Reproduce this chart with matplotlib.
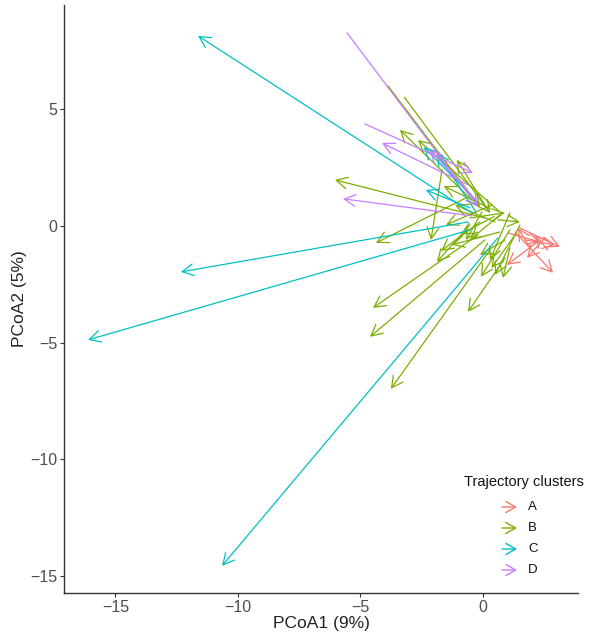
import matplotlib
matplotlib.use("Agg")
import matplotlib.pyplot as plt

plt.rcParams['font.family'] = ['Liberation Sans', 'DejaVu Sans']

clusters = ['A', 'B', 'C', 'D']
colors = ['#F8766D', '#7CAE00', '#00BFC4', '#C77CFF']

# Trajectories: start (x0, y0) -> end (x1, y1), in PCoA units
A_x0 = [1.31, 1.51, 2.33, 2.53, 1.92, 2.65, 1.71, 1.02]
A_y0 = [-0.26, -0.09, -0.60, -0.51, -0.94, -1.03, -0.60, -0.30]
A_x1 = [2.86, 3.14, 0.98, 1.80, 1.43, 2.12, 2.94, 2.33]
A_y1 = [-2.01, -0.90, -1.67, -1.37, -0.09, -0.39, -0.81, -0.69]

B_x0 = [-3.88, -0.45, 0.08, -0.69, -1.67, -0.12, -0.20, 0.08, 0.29, 0.90, 1.10, -0.53,
        0.20, 0.49, 0.69, 1.10, -0.53, 1.51, 0.69, 1.10, -0.04, 0.61, 0.37, 0.90, 0.69,
        -3.20, 0.45, 1.30, 0.30]
B_y0 = [6.00, 1.11, 0.34, 1.20, 2.40, 0.17, -0.39, -0.60, -1.03, -1.37, -0.94, 0.04,
        0.69, 0.17, 0.47, 0.56, 0.34, 0.04, -0.26, -0.17, 0.60, 0.26, 0.90, -0.60, 0.60,
        5.50, 0.40, -0.40, 0.75]
B_x1 = [-0.12, -3.39, -6.04, -4.37, -2.12, -1.71, -4.49, -4.61, -3.76, -0.61, 0.82, -1.88,
        -1.06, -1.14, -0.53, 0.29, 0.90, 0.49, -1.27, -0.08, -0.69, 1.51, -1.51, -0.12, -2.65,
        0.30, -0.90, 0.35, -1.60]
B_y1 = [0.81, 4.11, 1.97, -0.73, -0.60, -1.07, -3.51, -4.75, -6.98, -3.68, -2.23, -1.54,
        2.83, 0.90, -0.60, -1.46, 0.56, -2.10, -0.81, -2.18, -0.60, 0.17, 0.04, -1.24, 3.68,
        0.55, -0.35, -1.80, 1.70]

C_x0 = [-0.45, -0.61, -0.53, 0.61, -0.20, -0.53, -0.29]
C_y0 = [0.56, 0.17, -0.17, -0.51, 0.99, 0.77, 0.60]
C_x1 = [-11.63, -12.33, -16.12, -10.65, -2.41, -2.33, -1.88]
C_y1 = [8.14, -1.97, -4.88, -14.56, 3.38, 1.54, 3.13]

D_x0 = [-5.55, -4.82, -0.61, -0.45, -0.29]
D_y0 = [8.27, 4.37, 1.76, 0.43, 1.11]
D_x1 = [-0.20, -0.41, -4.12, -5.71, -2.16]
D_y1 = [0.81, 2.27, 3.55, 1.16, 3.25]

series = [(A_x0, A_y0, A_x1, A_y1), (B_x0, B_y0, B_x1, B_y1),
          (C_x0, C_y0, C_x1, C_y1), (D_x0, D_y0, D_x1, D_y1)]

x_ticks = [-15, -10, -5, 0]
y_ticks = [-15, -10, -5, 0, 5]

fig = plt.figure(figsize=(6.0, 6.35), dpi=100)
ax = fig.add_axes([64 / 600, 42 / 635, 514 / 600, 588 / 635])

astyle = '->,head_length=0.8,head_width=0.42'
for (x0s, y0s, x1s, y1s), col in zip(series, colors):
    for x0, y0, x1, y1 in zip(x0s, y0s, x1s, y1s):
        ax.annotate('', xy=(x1, y1), xytext=(x0, y0),
                    arrowprops=dict(arrowstyle=astyle, color=col, lw=0.9,
                                    shrinkA=0, shrinkB=0, mutation_scale=10))

ax.set_xlim(-17.1, 3.88)
ax.set_ylim(-15.72, 9.46)
ax.set_xticks(x_ticks)
ax.set_yticks(y_ticks)
ax.set_xticklabels([f'\u2212{abs(t)}' if t < 0 else str(t) for t in x_ticks])
ax.set_yticklabels([f'\u2212{abs(t)}' if t < 0 else str(t) for t in y_ticks])
for s in ['top', 'right']:
    ax.spines[s].set_visible(False)
for s in ['left', 'bottom']:
    ax.spines[s].set_color('#333333')
    ax.spines[s].set_linewidth(1.0)
ax.tick_params(axis='both', length=3, width=0.8, color='#333333',
               labelcolor='#4D4D4D', labelsize=11.5, pad=2)
ax.set_xlabel('PCoA1 (9%)', fontsize=12.5, color='#222222', labelpad=1)
ax.set_ylabel('PCoA2 (5%)', fontsize=12.5, color='#222222', labelpad=2)

# Legend drawn manually (ggplot-style arrow keys)
W, H = 600, 635
fig.text(524 / W, 1 - 482 / H, 'Trajectory clusters', fontsize=10.5,
         ha='center', va='center', color='#111111')
for i, (lab, col) in enumerate(zip(clusters, colors)):
    yy = 1 - (507 + i * 21) / H
    fig.patches.append(matplotlib.patches.FancyArrowPatch(
        (502 / W, yy), (517 / W, yy), transform=fig.transFigure,
        arrowstyle='->,head_length=0.7,head_width=0.4', mutation_scale=10,
        color=col, lw=1.0, shrinkA=0, shrinkB=0))
    fig.text(528 / W, yy, lab, fontsize=9.5, ha='left', va='center', color='#111111')

fig.savefig('out.png', dpi=100, facecolor='white')
